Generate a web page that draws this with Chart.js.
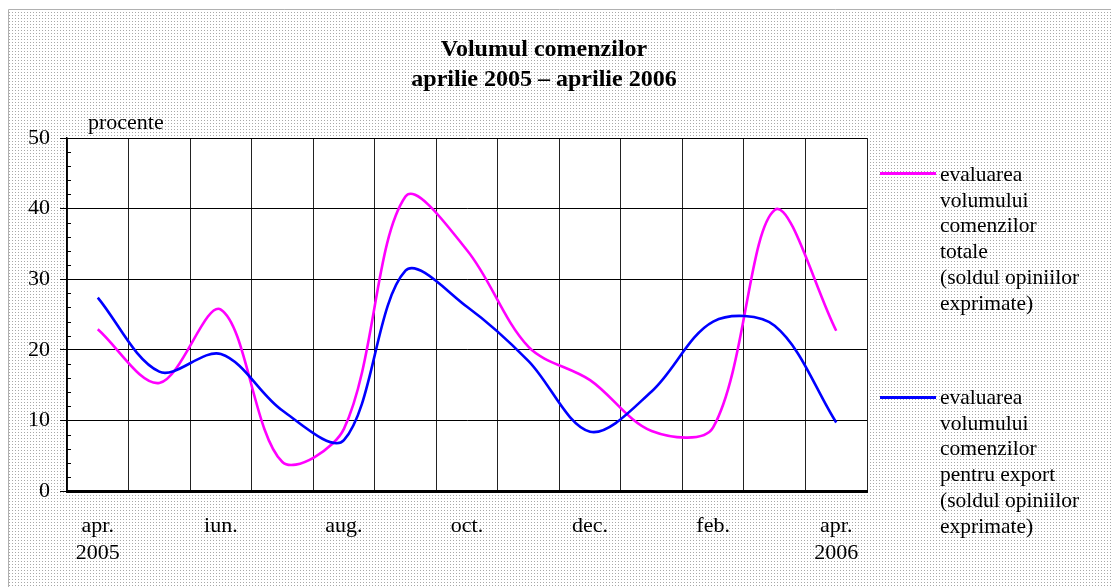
<!DOCTYPE html>
<html><head><meta charset="utf-8">
<script src="https://cdn.jsdelivr.net/npm/chart.js@4"></script>
<style>
html,body{margin:0;padding:0;background:#fff;}
#wrap{position:relative;width:1111px;height:587px;overflow:hidden;}
canvas{position:absolute;left:0;top:0;}
.leg{position:absolute;left:940px;font-family:"Liberation Serif",serif;font-size:21.5px;line-height:25.7px;color:#000;white-space:nowrap;}
.sw{position:absolute;left:880px;width:56px;height:3px;}
</style></head><body>
<div id="wrap"><canvas id="c" width="1111" height="587"></canvas>
<div class="sw" style="top:172px;background:#ff00ff"></div>
<div class="leg" style="top:162px">evaluarea<br>volumului<br>comenzilor<br>totale<br>(soldul opiniilor<br>exprimate)</div>
<div class="sw" style="top:396px;background:#0000ff"></div>
<div class="leg" style="top:385px">evaluarea<br>volumului<br>comenzilor<br>pentru export<br>(soldul opiniilor<br>exprimate)</div>
</div>
<script>
const categories = ['apr. 2005','mai','iun.','iul.','aug.','sep.','oct.','nov.','dec.','ian.','feb.','mar.','apr. 2006'];
const tickLabels = [['apr.','2005'],'','iun.','','aug.','','oct.','','dec.','','feb.','',['apr.','2006']];
const seriesTotale = [22.9, 15.3, 25.7, 4.1, 8.8, 41.7, 34.1, 20.4, 15.7, 8.5, 9.0, 39.8, 22.7];
const seriesExport = [27.4, 16.9, 19.4, 11.4, 7.2, 31.2, 26.1, 18.4, 8.4, 14.1, 24.0, 23.4, 9.7];
const yTicks = [0, 10, 20, 30, 40, 50];
const titleLines = ['Volumul comenzilor', 'aprilie 2005 \u2013 aprilie 2006'];
const unitLabel = 'procente';

Chart.defaults.font.family = '"Liberation Serif", serif';
Chart.defaults.color = '#000';

const pat = document.createElement('canvas');
pat.width = 3; pat.height = 3;
const pctx = pat.getContext('2d');
pctx.fillStyle = '#fff'; pctx.fillRect(0,0,3,3);
pctx.fillStyle = '#a8a8a8'; pctx.fillRect(0,0,1,1);

const bgPlugin = {
  id: 'bg',
  beforeDraw(chart) {
    const ctx = chart.ctx, a = chart.chartArea;
    ctx.save();
    ctx.fillStyle = ctx.createPattern(pat, 'repeat');
    ctx.fillRect(9, 10, chart.width - 9, chart.height - 10);
    ctx.strokeStyle = '#b0b0b0'; ctx.lineWidth = 1;
    ctx.beginPath(); ctx.moveTo(8.5, chart.height); ctx.lineTo(8.5, 9.5); ctx.lineTo(chart.width, 9.5); ctx.stroke();
    ctx.fillStyle = '#fff';
    ctx.fillRect(a.left, a.top, a.right - a.left, a.bottom - a.top);
    ctx.restore();
  },
  afterDraw(chart) {
    const ctx = chart.ctx, y = chart.scales.y, a = chart.chartArea;
    ctx.save();
    ctx.strokeStyle = '#000'; ctx.lineWidth = 1;
    for (let v = 2; v < 50; v += 2) {
      if (v % 10 === 0) continue;
      const py = Math.round(y.getPixelForValue(v)) + 0.5;
      ctx.beginPath(); ctx.moveTo(a.left, py); ctx.lineTo(a.left + 4, py); ctx.stroke();
    }
    ctx.font = '22px "Liberation Serif", serif';
    ctx.fillStyle = '#000'; ctx.textBaseline = 'middle'; ctx.textAlign = 'left';
    ctx.fillText(unitLabel, 88, 123);
    ctx.restore();
  }
};

new Chart(document.getElementById('c'), {
  type: 'line',
  data: {
    labels: categories,
    datasets: [
      { label: 'evaluarea volumului comenzilor totale (soldul opiniilor exprimate)', data: seriesTotale,
        borderColor: '#ff00ff', borderWidth: 2.6, pointRadius: 0, tension: 0.33, fill: false, order: 2 },
      { label: 'evaluarea volumului comenzilor pentru export (soldul opiniilor exprimate)', data: seriesExport,
        borderColor: '#0000ff', borderWidth: 2.6, pointRadius: 0, tension: 0.33, fill: false, order: 1 }
    ]
  },
  options: {
    responsive: false, animation: false, devicePixelRatio: 1,
    layout: { padding: { left: 0, right: 23, top: 0, bottom: 0 } },
    plugins: {
      legend: { display: false },
      tooltip: { enabled: false },
      title: { display: true, text: titleLines, color: '#000',
        font: { size: 24, weight: 'bold', lineHeight: 1.25 }, padding: { top: 35, bottom: 43 } }
    },
    scales: {
      x: {
        offset: true,
        grid: { display: true, offset: true, color: '#222', lineWidth: 1, drawTicks: false },
        border: { display: true, color: '#000', width: 3 },
        ticks: { autoSkip: false, maxRotation: 0, padding: 22, font: { size: 22, lineHeight: 1.23 },
          callback: (v, i) => tickLabels[i] },
        afterFit(s) { s.height = 96; }
      },
      y: {
        min: 0, max: 50,
        afterBuildTicks(s) { s.ticks = yTicks.map(v => ({ value: v })); },
        grid: { color: '#000', lineWidth: 1, tickLength: 7, drawTicks: true },
        border: { display: true, color: '#000', width: 1.5 },
        ticks: { padding: 10, font: { size: 22 } },
        afterFit(s) { s.width = 67; }
      },
      r: {
        type: 'linear', position: 'right', display: true,
        grid: { display: false, drawTicks: false }, ticks: { display: false }, border: { display: false },
        afterFit(s) { s.width = 221; }
      }
    }
  },
  plugins: [bgPlugin]
});
</script>
</body></html>
